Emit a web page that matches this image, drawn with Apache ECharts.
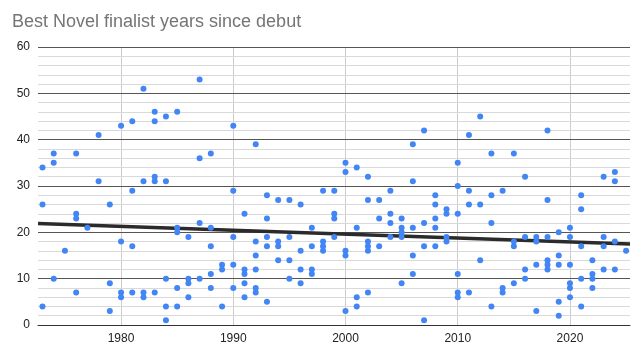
<!DOCTYPE html>
<html>
<head>
<meta charset="utf-8">
<title>Best Novel finalist years since debut</title>
<script src="https://cdn.jsdelivr.net/npm/echarts@6/dist/echarts.min.js"></script>
<style>
  html, body { margin: 0; padding: 0; background: #fff; }
  #chart { width: 643px; height: 352px; }
</style>
</head>
<body>
<div id="chart"></div>
<script>
// finalist year and, for each finalist that year, years since the author's debut
const finalistYears = [1973, 1974, 1975, 1976, 1977, 1978, 1979, 1980, 1981, 1982,
  1983, 1984, 1985, 1986, 1987, 1988, 1989, 1990, 1991, 1992,
  1993, 1994, 1995, 1996, 1997, 1998, 1999, 2000, 2001, 2002,
  2003, 2004, 2005, 2006, 2007, 2008, 2009, 2010, 2011, 2012,
  2013, 2014, 2015, 2016, 2017, 2018, 2019, 2020, 2021, 2022,
  2023, 2024, 2025];
const yearsSinceDebut = [
  [34, 26, 4], [37, 35, 10], [16], [37, 24, 23, 7], [21], [41, 31], [26, 9, 3],
  [43, 18, 7, 6], [44, 29, 17, 7], [51, 31, 7, 6],
  [46, 44, 32, 31, 7], [45, 31, 10, 4, 1], [46, 21, 20, 8, 4], [19, 10, 9, 6],
  [53, 36, 22, 10], [37, 21, 17, 11, 8], [13, 12, 4], [43, 29, 19, 13, 8],
  [24, 12, 11, 9, 6], [39, 18, 15, 12, 8, 7],
  [28, 23, 19, 17, 5], [27, 18, 17, 14], [27, 19, 14, 10], [26, 16, 12, 9],
  [21, 17, 12, 11], [29, 18, 17, 16], [29, 24, 23, 19], [35, 33, 16, 15, 3],
  [34, 21, 6, 4], [32, 27, 18, 17, 16, 7],
  [27, 23, 17], [29, 24, 22, 19], [23, 21, 20, 19, 9], [39, 31, 21, 15, 11],
  [42, 22, 17, 1], [28, 26, 23, 21, 17], [25, 24, 19, 18], [35, 30, 24, 11, 7, 6],
  [41, 29, 26, 7], [45, 26, 14],
  [37, 28, 22, 4], [29, 8, 7], [37, 18, 17, 9], [32, 19, 12, 10], [19, 18, 13, 3],
  [42, 27, 19, 14, 13, 12], [20, 15, 13, 5, 2], [21, 19, 13, 9, 8, 6],
  [28, 25, 17, 10, 4], [14, 11, 10, 8],
  [32, 19, 17, 12], [33, 31, 18, 12], [16]
];
const xTicks = [1980, 1990, 2000, 2010, 2020];
const yTicks = [0, 10, 20, 30, 40, 50, 60];
const xMin = 1972.6;
const xMax = 2025.35;

let points = [];
finalistYears.forEach((yr, i) => {
  yearsSinceDebut[i].forEach(v => points.push([yr, v]));
});

// linear trendline (least squares)
let n = points.length, sx = 0, sy = 0, sxx = 0, sxy = 0;
points.forEach(p => {
  sx += p[0]; sy += p[1]; sxx += p[0] * p[0]; sxy += p[0] * p[1];
});
const slope = (n * sxy - sx * sy) / (n * sxx - sx * sx);
const intercept = (sy - slope * sx) / n;
const trend = [[xMin, intercept + slope * xMin], [xMax, intercept + slope * xMax]];

// horizontal gridlines: major every 10, minor every 2
let minorLines = [];
for (let v = 2; v < 60; v += 2) {
  if (v % 10 !== 0) minorLines.push(v);
}
const majorLines = yTicks.filter(v => v > 0);

function gridSeries(values, color) {
  return {
    type: 'line',
    data: [],
    silent: true,
    zlevel: 0,
    z: 1,
    markLine: {
      silent: true,
      symbol: 'none',
      animation: false,
      label: { show: false },
      emphasis: { disabled: true },
      lineStyle: { type: 'solid', width: 1, color: color },
      data: values.map(v => ({ yAxis: v }))
    }
  };
}

const chart = echarts.init(document.getElementById('chart'));
chart.setOption({
  animation: false,
  textStyle: { fontFamily: 'Liberation Sans, Arial, sans-serif' },
  title: {
    text: 'Best Novel finalist years since debut',
    left: 7,
    top: 8,
    textStyle: { color: '#757575', fontSize: 18, fontWeight: 'normal' }
  },
  grid: { left: 38, right: 13, top: 47, bottom: 27 },
  xAxis: {
    type: 'value',
    min: xMin,
    max: xMax,
    axisLine: { show: true, lineStyle: { color: '#333', width: 1 } },
    axisTick: { show: false, customValues: xTicks },
    axisLabel: {
      customValues: xTicks,
      color: '#222',
      fontSize: 12,
      margin: 8,
      formatter: v => String(v)
    },
    splitLine: { show: true, lineStyle: { color: '#cccccc', width: 1 } }
  },
  yAxis: {
    type: 'value',
    min: 0,
    max: 60,
    interval: 10,
    axisLine: { show: false },
    axisTick: { show: false, customValues: yTicks },
    axisLabel: { customValues: yTicks, color: '#222', fontSize: 12, margin: 8 },
    splitLine: { show: false }
  },
  series: [
    gridSeries(minorLines, '#d9d9d9'),
    gridSeries(majorLines, '#555555'),
    {
      type: 'line',
      data: trend,
      symbol: 'none',
      lineStyle: { color: '#2b2b2b', width: 3.5 },
      zlevel: 1,
      z: 2
    },
    {
      type: 'scatter',
      data: points,
      symbolSize: 6,
      itemStyle: { color: '#4285f4', opacity: 1 },
      zlevel: 1,
      z: 3
    }
  ]
});
</script>
</body>
</html>
